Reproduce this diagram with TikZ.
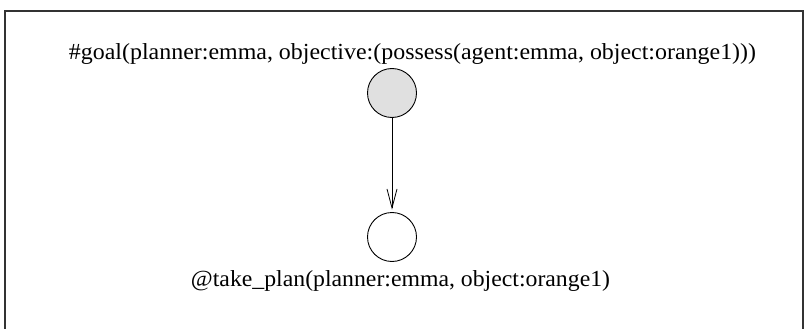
\documentclass[tikz,border=0pt]{standalone}
\usepackage{fontspec}
\setmainfont{Liberation Serif}
\usetikzlibrary{arrows.meta}
% keep the natural height of a label, set its width
\newcommand\fitwidth[2]{\resizebox{#1}{\height}{#2}}
\tikzset{
  frameline/.style={line width=1.1pt, black!80},
  state/.style={circle, draw, line width=0.9pt, minimum size=49pt, inner sep=0pt},
  goalstate/.style={state, fill=black!12},
  label/.style={anchor=base, inner sep=0pt, font=\fontsize{23}{27}\selectfont},
  link/.style={line width=0.8pt, shorten >=2.5pt,
    -{Straight Barb[length=19pt,width=10pt,line width=0.8pt]}}
}
\begin{document}
\begin{tikzpicture}[x=1pt, y=-1pt]
  \useasboundingbox (0,0) rectangle (812,329);
  % open frame: left, top and right sides
  \coordinate (fbl) at (5,329);
  \coordinate (ftl) at (5,11);
  \coordinate (ftr) at (803,11);
  \coordinate (fbr) at (803,329);
  \draw[frameline] (fbl) -- (ftl) -- (ftr) -- (fbr);

  \node[goalstate] (goal) at (392,93) {};
  \node[state] (plan) at (392,237) {};
  \draw[link] (goal) -- (plan);

  \node[label] (goaltext) at (412.5,60)
    {\fitwidth{687pt}{\#goal(planner:emma, objective:(possess(agent:emma, object:orange1)))}};
  \node[label] (plantext) at (400.5,286)
    {\fitwidth{419pt}{@take\_plan(planner:emma, object:orange1)}};
\end{tikzpicture}
\end{document}
